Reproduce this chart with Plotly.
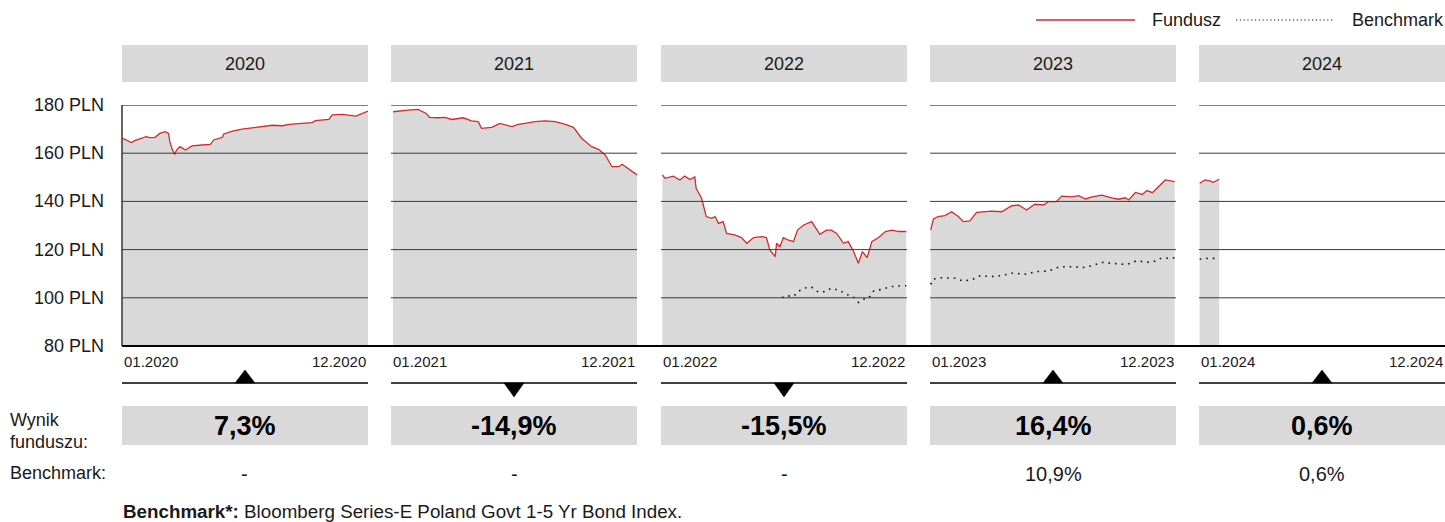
import plotly.graph_objects as go

W, H = 1445, 522

years = ["2020", "2021", "2022", "2023", "2024"]

fund_dates_2020 = ["01-02", "01-10", "01-15", "01-20", "01-27", "02-06", "02-11", "02-19", "02-26", "03-05",
                   "03-10", "03-12", "03-15", "03-19", "03-22", "03-27", "04-04", "04-14", "04-29", "05-11",
                   "05-16", "05-29", "05-31", "06-13", "06-27", "07-07", "07-22", "08-11", "08-26", "09-05",
                   "09-24", "10-09", "10-14", "11-03", "11-08", "11-23", "12-13", "12-23", "12-31"]
fund_vals_2020 = [166.2, 165.1, 164.4, 165.2, 165.8, 166.9, 166.5, 166.6, 168.2, 168.9,
                  168.2, 164.8, 162.0, 159.5, 161.3, 162.7, 161.3, 163.0, 163.4, 163.7,
                  165.5, 166.6, 168.0, 169.2, 170.0, 170.3, 171.0, 171.6, 171.4, 172.0,
                  172.4, 172.7, 173.5, 174.0, 175.9, 176.1, 175.4, 176.5, 177.5]

fund_dates_2021 = ["01-04", "01-12", "01-26", "02-10", "02-22", "02-27", "03-12", "03-22", "04-01", "04-18",
                   "04-30", "05-10", "05-15", "05-30", "06-11", "06-29", "07-08", "07-18", "08-02", "08-17",
                   "09-01", "09-16", "09-28", "10-10", "10-25", "11-04", "11-14", "11-24", "12-04", "12-09",
                   "12-19", "12-31"]
fund_vals_2021 = [177.2, 177.5, 177.9, 178.2, 176.5, 174.9, 174.7, 174.9, 174.0, 174.7,
                  173.4, 173.1, 170.3, 170.7, 172.4, 171.0, 172.0, 172.4, 173.1, 173.4,
                  173.1, 172.0, 170.7, 166.2, 162.7, 161.6, 159.3, 154.4, 154.4, 155.4,
                  153.4, 151.0]

fund_dates_2022 = ["01-03", "01-07", "01-19", "01-29", "02-05", "02-13", "02-20", "02-22", "03-02", "03-09",
                   "03-17", "03-22", "03-27", "04-03", "04-08", "04-20", "04-30", "05-08", "05-18", "05-30",
                   "06-06", "06-11", "06-19", "06-21", "06-26", "07-01", "07-08", "07-16", "07-22", "07-31",
                   "08-12", "08-24", "09-03", "09-10", "09-18", "09-28", "10-05", "10-13", "10-20", "10-26",
                   "11-02", "11-09", "11-19", "11-29", "12-09", "12-19", "12-30"]
fund_vals_2022 = [151.0, 149.6, 150.5, 148.9, 150.5, 149.1, 150.2, 145.4, 141.3, 133.7,
                  133.0, 133.7, 130.9, 131.6, 126.7, 126.1, 125.0, 122.6, 125.0, 125.4,
                  125.0, 119.9, 117.1, 122.6, 121.2, 125.0, 124.0, 123.3, 128.1, 130.2,
                  131.6, 126.3, 128.1, 128.1, 126.7, 122.6, 123.3, 119.2, 114.3, 119.2,
                  116.7, 123.3, 125.0, 127.5, 128.1, 127.5, 127.5]

bench_dates_2022 = ["06-29", "07-08", "07-16", "07-23", "07-31", "08-12", "08-22", "09-01", "09-10", "09-23",
                    "10-05", "10-13", "10-20", "10-28", "11-04", "11-12", "11-24", "12-06", "12-19", "12-30"]
bench_vals_2022 = [100.1, 100.8, 100.5, 102.6, 104.0, 104.4, 102.3, 102.6, 104.0, 102.9,
                   101.2, 100.3, 98.1, 99.4, 99.8, 102.9, 103.5, 104.6, 104.9, 105.0]

fund_dates_2023 = ["01-02", "01-06", "01-13", "01-23", "02-02", "02-12", "02-19", "03-01", "03-11", "03-23",
                   "04-02", "04-17", "05-02", "05-12", "05-24", "06-05", "06-18", "06-25", "07-07", "07-15",
                   "07-30", "08-09", "08-19", "08-29", "09-12", "09-27", "10-07", "10-17", "10-22", "11-01",
                   "11-11", "11-18", "11-26", "12-05", "12-15", "12-29"]
fund_vals_2023 = [128.1, 132.7, 133.7, 134.1, 135.7, 133.7, 131.6, 131.9, 135.5, 135.7,
                  136.0, 135.7, 138.2, 138.5, 136.4, 138.8, 138.5, 139.9, 139.9, 142.2,
                  141.9, 142.4, 141.0, 141.9, 142.6, 141.5, 140.9, 141.5, 140.6, 143.7,
                  142.9, 144.5, 143.6, 146.1, 148.9, 148.2]

bench_dates_2023 = ["01-02", "01-06", "01-18", "02-07", "02-19", "03-03", "03-16", "04-02", "04-17", "05-02",
                    "05-22", "06-08", "06-25", "07-12", "07-30", "08-16", "08-29", "09-12", "10-02", "10-19",
                    "11-03", "11-18", "11-30", "12-08", "12-29"]
bench_vals_2023 = [105.6, 107.8, 108.3, 108.1, 107.0, 107.4, 109.1, 108.8, 109.2, 110.2,
                   109.8, 110.9, 111.1, 112.9, 112.9, 112.6, 113.3, 114.7, 114.2, 113.8,
                   115.4, 114.7, 115.2, 116.3, 116.6]

fund_dates_2024 = ["01-02", "01-10", "01-17", "01-22", "01-31"]
fund_vals_2024 = [147.5, 148.9, 148.5, 147.9, 149.2]

bench_dates_2024 = ["01-02", "01-15", "01-31"]
bench_vals_2024 = [116.0, 116.4, 116.3]

fund_series = [(fund_dates_2020, fund_vals_2020), (fund_dates_2021, fund_vals_2021),
               (fund_dates_2022, fund_vals_2022), (fund_dates_2023, fund_vals_2023),
               (fund_dates_2024, fund_vals_2024)]
bench_series = [None, None, (bench_dates_2022, bench_vals_2022),
                (bench_dates_2023, bench_vals_2023), (bench_dates_2024, bench_vals_2024)]

fund_results = [7.3, -14.9, -15.5, 16.4, 0.6]
bench_results = [None, None, None, 10.9, 0.6]

y_ticks = [80, 100, 120, 140, 160, 180]
y_unit = "PLN"

footnote_bold = "Benchmark*:"
footnote_text = "Bloomberg Series-E Poland Govt 1-5 Yr Bond Index."

# ---- layout (pixel geometry) ----
panels_px = [(122, 368), (391, 637), (661, 907), (930, 1176), (1199, 1445)]
PLOT_TOP, PLOT_BOT = 105, 346
RED = "#d42a2a"
GRAY = "#d9d9d9"
TXT = "#1a1a1a"
FONT = "Liberation Sans, Arial, Helvetica, sans-serif"


def fx(px):
    return px / W


def fy(py):
    return 1 - py / H


def fmt(v):
    return f"{v:.1f}".replace(".", ",") + "%"


fig = go.Figure()
shapes = []
annotations = []

for i, year in enumerate(years):
    n = i + 1
    xa = "x" if n == 1 else f"x{n}"
    ya = "y" if n == 1 else f"y{n}"
    l, r = panels_px[i]

    d, v = fund_series[i]
    fig.add_trace(go.Scatter(
        x=[f"{year}-{s}" for s in d], y=v, mode="lines", name="Fundusz",
        line=dict(color=RED, width=1.3), fill="tozeroy", fillcolor=GRAY,
        xaxis=xa, yaxis=ya, showlegend=False, hoverinfo="skip"))
    if bench_series[i] is not None:
        bd, bv = bench_series[i]
        fig.add_trace(go.Scatter(
            x=[f"{year}-{s}" for s in bd], y=bv, mode="lines", name="Benchmark",
            line=dict(color="#111", width=1.6, dash="1.6px,5px"),
            xaxis=xa, yaxis=ya, showlegend=False, hoverinfo="skip"))

    fig.update_layout(**{
        ("xaxis" if n == 1 else f"xaxis{n}"): dict(
            domain=[fx(l), fx(r)], range=[f"{year}-01-01", f"{year}-12-31"],
            type="date", visible=False, anchor=ya, fixedrange=True),
        ("yaxis" if n == 1 else f"yaxis{n}"): dict(
            domain=[fy(PLOT_BOT), fy(PLOT_TOP)], range=[y_ticks[0], y_ticks[-1]],
            visible=False, anchor=xa, fixedrange=True),
    })

    # gridlines above the area fill
    for t in y_ticks[1:]:
        shapes.append(dict(type="line", xref=f"{xa} domain", yref=ya, x0=0, x1=1, y0=t, y1=t,
                           layer="above", line=dict(color="#000" if t == y_ticks[-1] else "#3a3a3a", width=1)))

    # header
    shapes.append(dict(type="rect", xref="paper", yref="paper", x0=fx(l), x1=fx(r), y0=fy(82), y1=fy(45),
                       fillcolor=GRAY, line=dict(width=0), layer="below"))
    annotations.append(dict(xref="paper", yref="paper", x=fx((l + r) / 2), y=fy(64), text=year,
                            showarrow=False, xanchor="center", yanchor="middle",
                            font=dict(size=18, color=TXT, family=FONT)))

    # x tick labels
    annotations.append(dict(xref=xa, yref="paper", x=f"{year}-01-01", y=fy(361), text=f"01.{year}",
                            showarrow=False, xanchor="left", yanchor="middle",
                            font=dict(size=15, color=TXT, family=FONT)))
    annotations.append(dict(xref=xa, yref="paper", x=f"{year}-12-31", y=fy(361), text=f"12.{year}",
                            showarrow=False, xanchor="right", yanchor="middle",
                            font=dict(size=15, color=TXT, family=FONT)))

    # indicator line + triangle
    shapes.append(dict(type="line", xref="paper", yref="paper", x0=fx(l), x1=fx(r), y0=fy(383), y1=fy(383),
                       line=dict(color="#000", width=1.5)))
    cx = (l + r) / 2
    tip = 370 if fund_results[i] >= 0 else 397
    path = (f"M {fx(cx - 10)},{fy(383)} L {fx(cx + 10)},{fy(383)} L {fx(cx)},{fy(tip)} Z")
    shapes.append(dict(type="path", xref="paper", yref="paper", path=path,
                       fillcolor="#000", line=dict(color="#000", width=0.5)))

    # result box
    shapes.append(dict(type="rect", xref="paper", yref="paper", x0=fx(l), x1=fx(r), y0=fy(445), y1=fy(406),
                       fillcolor=GRAY, line=dict(width=0), layer="below"))
    annotations.append(dict(xref="paper", yref="paper", x=fx(cx), y=fy(426), text=f"<b>{fmt(fund_results[i])}</b>",
                            showarrow=False, xanchor="center", yanchor="middle",
                            font=dict(size=27, color="#000", family=FONT)))
    b = bench_results[i]
    annotations.append(dict(xref="paper", yref="paper", x=fx(cx), y=fy(474), text="-" if b is None else fmt(b),
                            showarrow=False, xanchor="center", yanchor="middle",
                            font=dict(size=20, color=TXT, family=FONT)))

# y tick labels
for t in y_ticks:
    annotations.append(dict(xref="paper", yref="y", x=fx(106), y=t, text=f"{t} {y_unit}",
                            showarrow=False, xanchor="right", yanchor="middle",
                            font=dict(size=18, color=TXT, family=FONT)))

# axes lines
shapes.append(dict(type="line", xref="paper", yref="paper", x0=fx(122), x1=fx(1445), y0=fy(PLOT_BOT), y1=fy(PLOT_BOT),
                   layer="above", line=dict(color="#000", width=2)))
shapes.append(dict(type="line", xref="paper", yref="paper", x0=fx(122), x1=fx(122), y0=fy(PLOT_BOT), y1=fy(PLOT_TOP),
                   layer="above", line=dict(color="#333", width=1.5)))

# row labels
for txt, py in [("Wynik", 420), ("funduszu:", 442), ("Benchmark:", 473)]:
    annotations.append(dict(xref="paper", yref="paper", x=fx(8), y=fy(py), text=txt,
                            showarrow=False, xanchor="left", yanchor="middle",
                            font=dict(size=18, color=TXT, family=FONT)))

# footnote
annotations.append(dict(xref="paper", yref="paper", x=fx(121), y=fy(511),
                        text=f"<b>{footnote_bold}</b> {footnote_text}",
                        showarrow=False, xanchor="left", yanchor="middle",
                        font=dict(size=18.8, color=TXT, family=FONT)))

# legend (manual)
shapes.append(dict(type="line", xref="paper", yref="paper", x0=fx(1036), x1=fx(1135), y0=fy(20), y1=fy(20),
                   line=dict(color=RED, width=1.3)))
annotations.append(dict(xref="paper", yref="paper", x=fx(1150), y=fy(20), text="Fundusz",
                        showarrow=False, xanchor="left", yanchor="middle",
                        font=dict(size=18, color=TXT, family=FONT)))
shapes.append(dict(type="line", xref="paper", yref="paper", x0=fx(1236), x1=fx(1333), y0=fy(20), y1=fy(20),
                   line=dict(color="#111", width=1.2, dash="1.2px,2.6px")))
annotations.append(dict(xref="paper", yref="paper", x=fx(1350), y=fy(20), text="Benchmark",
                        showarrow=False, xanchor="left", yanchor="middle",
                        font=dict(size=18, color=TXT, family=FONT)))

fig.update_layout(
    width=W, height=H, autosize=False,
    margin=dict(l=0, r=0, t=0, b=0),
    paper_bgcolor="white", plot_bgcolor="rgba(0,0,0,0)",
    showlegend=False, shapes=shapes, annotations=annotations,
    font=dict(family=FONT, color=TXT),
)

fig.write_html("out.html", config={"displayModeBar": False, "staticPlot": True},
               post_script="document.body.style.margin='0';document.body.style.padding='0';"
                           "document.body.style.overflow='hidden';")
